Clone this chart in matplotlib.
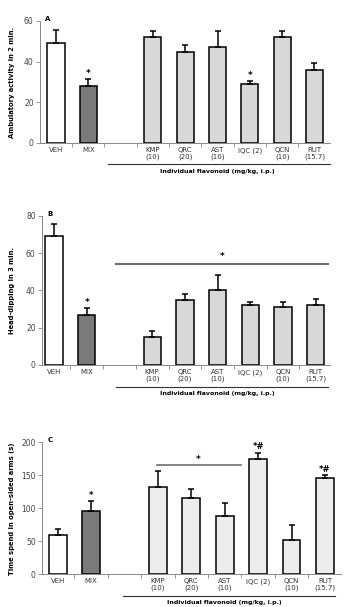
import numpy as np
import matplotlib.pyplot as plt
from matplotlib.transforms import blended_transform_factory

plt.rcParams['font.family'] = ['DejaVu Sans']

# данные
groups = ['VEH', 'MIX', '', 'KMP\n(10)', 'QRC\n(20)', 'AST\n(10)', 'IQC (2)', 'QCN\n(10)', 'RUT\n(15.7)']

amb_mean = [49, 28, None, 52, 45, 47, 29, 52, 36]
amb_err = [6.5, 3.5, None, 3, 3, 8, 1.5, 3, 3.5]

head_mean = [69, 27, None, 15, 35, 40, 32, 31, 32]
head_err = [6.7, 3.5, None, 3, 3, 8, 1.6, 3, 3.3]

time_mean = [59.5, 96, None, 132, 115, 88, 175, 52.5, 146]
time_err = [8.5, 14.5, None, 24.5, 15, 20, 9, 21.5, 4.5]

a_stars = {1: '*', 6: '*'}
c_stars = {1: '*', 6: '*#', 8: '*#'}

y_labels = ['Ambulatory activity in 2 min.', 'Head-dipping in 3 min.',
            'Time spend in open-sided arms (s)']
y_ticks = [[0, 20, 40, 60], [0, 20, 40, 60, 80], [0, 50, 100, 150, 200]]
letters = ['A', 'B', 'C']

W, H = 356, 607
fig = plt.figure(figsize=(W / 100, H / 100), dpi=100)

# положения осей в пикселях: лево, право, ноль по y, верх по y, xlim
layout = [
    dict(left=40, right=330, y0=143, y1=21, xlim=(-0.495, 8.48), ul=(1.6, 8.48)),
    dict(left=42, right=330, y0=365, y1=215.7, xlim=(-0.37, 8.44), ul=(1.9, 8.38)),
    dict(left=42, right=341, y0=574.3, y1=442.3, xlim=(-0.47, 8.48), ul=(1.96, 8.3)),
]

data = [(amb_mean, amb_err), (head_mean, head_err), (time_mean, time_err)]
light = ['#d8d8d8', '#d8d8d8', '#ececec']
grey = '#6e6e6e'

axes = []
for i, (lay, (m, e)) in enumerate(zip(layout, data)):
    ax = fig.add_axes([lay['left'] / W, 1 - lay['y0'] / H,
                       (lay['right'] - lay['left']) / W, (lay['y0'] - lay['y1']) / H])
    axes.append(ax)
    x = np.arange(len(groups))
    for j in range(len(groups)):
        if m[j] is None:
            continue
        col = '#ffffff' if j == 0 else ('#7a7a7a' if j == 1 else light[i])
        ax.bar(j, m[j], width=0.53, color=col, edgecolor='black', linewidth=1.1, zorder=2)
        ax.errorbar(j, m[j], yerr=[[0], [e[j]]], fmt='none', ecolor='black',
                    elinewidth=1.1, capsize=2.2, capthick=1.1, zorder=3)
    yt = y_ticks[i]
    ax.set_ylim(0, yt[-1])
    ax.set_xlim(*lay['xlim'])
    ax.set_yticks(yt)
    ax.set_xticks(x)
    ax.set_xticklabels(groups, fontsize=5, color='#333333', linespacing=1.0)
    ax.set_xticks(np.arange(0.5, 8.5, 1), minor=True)
    ax.tick_params(axis='x', which='major', length=0, pad=3)
    ax.tick_params(axis='x', which='minor', length=3, color='#888888', width=0.6)
    ax.tick_params(axis='y', length=3, color='#888888', width=0.6, labelsize=5.5,
                   labelcolor='#444444', pad=1.5)
    for s in ['top', 'right']:
        ax.spines[s].set_visible(False)
    for s in ['left', 'bottom']:
        ax.spines[s].set_color('#888888')
        ax.spines[s].set_linewidth(0.7)
    ax.set_ylabel(y_labels[i], fontsize=4.9, fontweight='bold')
    ax.yaxis.set_label_coords((15 - lay['left']) / (lay['right'] - lay['left']), 0.5)
    ax.text((lay['left'] + 8) / W, 1 - (lay['y1'] - 2) / H, letters[i], transform=fig.transFigure,
            fontsize=5, fontweight='bold', ha='center', va='center')

    # подчеркивание и подпись группы флавоноидов
    trans = blended_transform_factory(ax.transData, fig.transFigure)
    yl = 1 - (lay['y0'] + 21.5) / H
    ax.plot(lay['ul'], [yl, yl], transform=trans, color='#333333', lw=0.8, clip_on=False)
    ax.text(5.0, 1 - (lay['y0'] + 28) / H, 'Individual flavonoid (mg/kg, i.p.)',
            transform=trans, fontsize=4.5, fontweight='bold', ha='center', va='center')

# звездочки
ax = axes[0]
for j, s in a_stars.items():
    ax.annotate(s, (j, amb_mean[j] + amb_err[j]), xytext=(0, 1), textcoords='offset points',
                ha='center', va='bottom', fontsize=6.5, fontweight='bold')

ax = axes[1]
ax.annotate('*', (1, head_mean[1] + head_err[1]), xytext=(0, 1), textcoords='offset points',
            ha='center', va='bottom', fontsize=6.5, fontweight='bold')
ax.plot([1.9, 8.38], [54.3, 54.3], color=grey, lw=1.5, clip_on=False)
ax.text(5.14, 55.5, '*', ha='center', va='bottom', fontsize=6.5, fontweight='bold')

ax = axes[2]
for j, s in c_stars.items():
    ax.annotate(s, (j, time_mean[j] + time_err[j]), xytext=(0, 1), textcoords='offset points',
                ha='center', va='bottom', fontsize=6, fontweight='bold')
ax.plot([2.96, 5.5], [165.7, 165.7], color=grey, lw=1.2, clip_on=False)
ax.text(4.2, 167, '*', ha='center', va='bottom', fontsize=6.5, fontweight='bold')

fig.savefig('out.png', dpi=100)
